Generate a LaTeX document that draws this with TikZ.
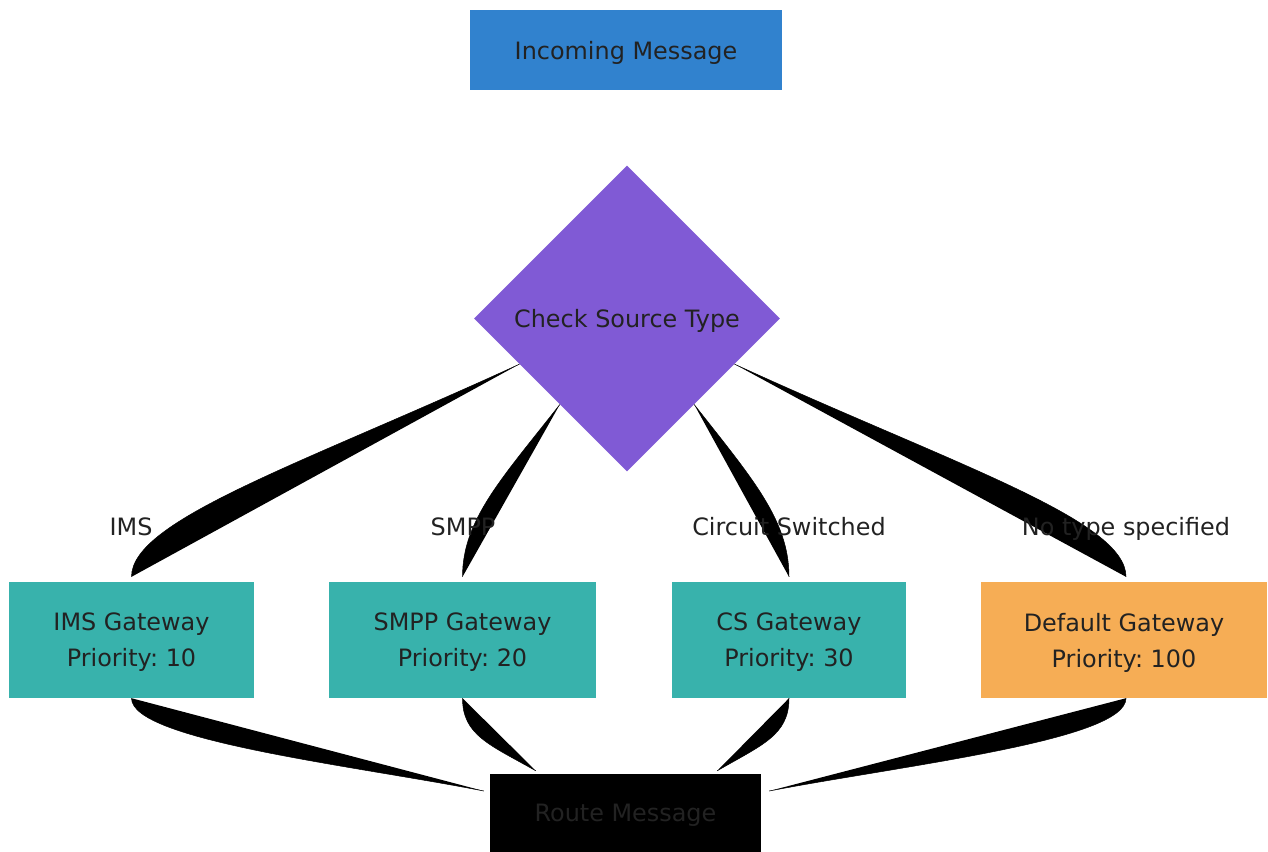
\documentclass[tikz,border=0pt]{standalone}
\usepackage{fontspec}
\setmainfont{DejaVu Sans}
\usetikzlibrary{shapes.geometric,calc}
\definecolor{msgblue}{HTML}{3182CE}
\definecolor{checkpurple}{HTML}{805AD5}
\definecolor{gwteal}{HTML}{38B2AC}
\definecolor{gworange}{HTML}{F6AD55}
\definecolor{txtgray}{HTML}{222222}
\frenchspacing
\begin{document}
\begin{tikzpicture}[x=1pt,y=-1pt,
    box/.style={rectangle,inner sep=0pt,text=txtgray,align=center,text depth=0pt,
        font=\fontsize{23.9}{36}\selectfont},
    gw/.style={box,fill=gwteal,minimum width=#1,minimum height=116pt},
    conn/.style={fill=black,draw=black,line width=0.5pt},
    lbl/.style={text=txtgray,inner sep=0pt,anchor=base,
        font=\fontsize{23.9}{28}\selectfont}]
    \useasboundingbox (0,0) rectangle (1268,851);
    % nodes
    \node[box,fill=msgblue,minimum width=312pt,minimum height=80pt] (in) at (626,50) {Incoming Message};
    \node[box,diamond,aspect=1,fill=checkpurple,minimum size=306pt] (check) at (627,318.5) {Check Source Type};
    \node[gw=245pt] (ims) at (131.5,640) {IMS Gateway\\Priority: 10};
    \node[gw=267pt] (smpp) at (462.5,640) {SMPP Gateway\\Priority: 20};
    \node[gw=234pt] (cs) at (789,640) {CS Gateway\\Priority: 30};
    \node[gw=286pt,fill=gworange] (def) at (1124,640) {Default Gateway\\Priority: 100};
    \node[box,fill=black,minimum width=271pt,minimum height=78pt] (route) at (625.5,813) {Route Message};
    % check -> gateways
    \fill[conn] (check.203) .. controls +(-218,100) and +(0,-57) .. ($(ims.north)+(0,-5)$);
    \fill[conn] (check.232) .. controls +(-58,74) and +(0,-57) .. ($(smpp.north)+(0,-5)$);
    \fill[conn] (check.308) .. controls +(58,74) and +(0,-57) .. ($(cs.north)+(0,-5)$);
    \fill[conn] (check.337) .. controls +(218,100) and +(0,-57) .. ($(def.north)+(2,-5)$);
    % gateways -> route
    \fill[conn] (ims.south) .. controls +(0,42) and +(-134,-26) .. ($(route.west)+(-6,-22)$);
    \fill[conn] (smpp.south) .. controls +(0,37) and +(-46,-26) .. ($(route.north west)+(46,-3)$);
    \fill[conn] (cs.south) .. controls +(0,37) and +(45,-26) .. ($(route.north east)+(-44,-3)$);
    \fill[conn] ($(def.south)+(2,0)$) .. controls +(0,42) and +(136,-26) .. ($(route.east)+(8,-22)$);
    % edge labels
    \node[lbl] (l-ims) at (131,535) {IMS};
    \node[lbl] (l-smpp) at (463,535) {SMPP};
    \node[lbl] (l-cs) at (789,535) {Circuit Switched};
    \node[lbl] (l-def) at (1126,535) {No type specified};
\end{tikzpicture}
\end{document}
